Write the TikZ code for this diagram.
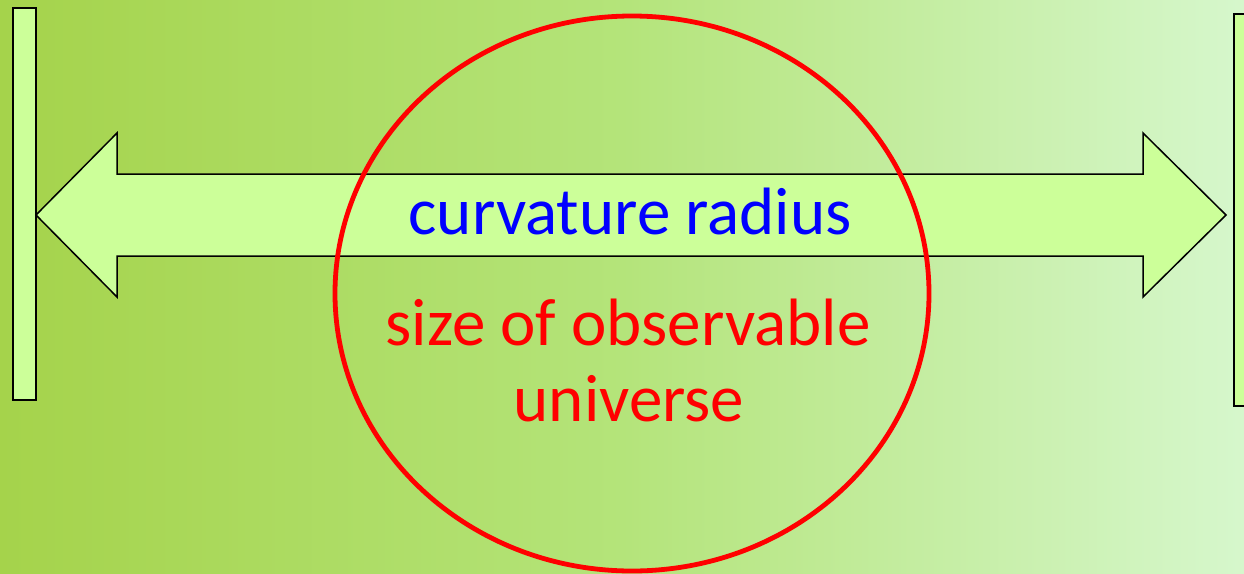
\documentclass[tikz,border=0pt]{standalone}
\usepackage{fontspec}
\setmainfont{Carlito}
\begin{document}
\begin{tikzpicture}[x=1pt,y=-1pt,
  barbox/.style={draw=black,line width=1.5pt,fill=boxgreen},
  arrowshape/.style={draw=black,line width=1.5pt,fill=boxgreen,line join=miter},
  ring/.style={draw=red,line width=4.8pt},
  lbl/.style={inner sep=0pt,anchor=base,font=\fontsize{67}{76}\selectfont,align=center}]
\definecolor{boxgreen}{HTML}{CCFF99}
\definecolor{bgleft}{HTML}{A5D34B}
\definecolor{bgmid}{HTML}{B4E47A}
\definecolor{bgright}{HTML}{D6F7CC}
\useasboundingbox (0,0) rectangle (1244,573);
\shade[left color=bgleft,right color=bgright,middle color=bgmid] (0,0) rectangle (1244,573);
\draw[barbox] (13,8) rectangle (36,400);
\draw[barbox] (1234,14) rectangle (1260,406);
\draw[arrowshape] (36,215) -- (117,133) -- (117,174) -- (1143,174) -- (1143,133) -- (1226,215)
  -- (1143,297) -- (1143,256) -- (117,256) -- (117,297) -- cycle;
\draw[ring] (632,293.5) ellipse [x radius=297,y radius=277.5];
\node[lbl,text=blue] (curv) at (630,234) {curvature radius};
\node[lbl,text=red] (size) at (628,345) {size of observable};
\node[lbl,text=red] (univ) at (629,421) {universe};
\end{tikzpicture}
\end{document}
